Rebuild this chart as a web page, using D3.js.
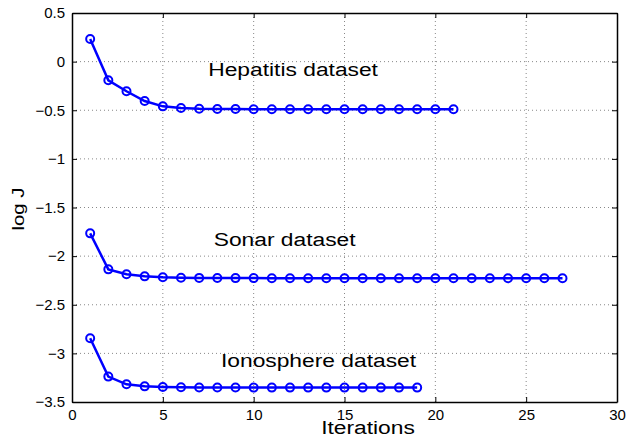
<!DOCTYPE html>
<html>
<head>
<meta charset="utf-8">
<script src="https://cdn.jsdelivr.net/npm/d3@7"></script>
<style>
  body { margin: 0; background: #fff; }
  svg { font-family: "Liberation Sans", Arial, sans-serif; }
</style>
</head>
<body>
<div class="chart"></div>
<script>
var svgWidth = 626;
var svgHeight = 440;
var margin = {top: 13, right: 9, bottom: 38, left: 72};
var width = svgWidth - margin.left - margin.right;
var height = svgHeight - margin.top - margin.bottom;

// data
var hepatitis = [0.233, -0.192, -0.305, -0.405, -0.46, -0.477, -0.485, -0.487, -0.488, -0.489,
  -0.489, -0.49, -0.49, -0.49, -0.49, -0.49, -0.49, -0.49, -0.49, -0.49, -0.49];
var sonar = [-1.766, -2.136, -2.187, -2.208, -2.218, -2.222, -2.224, -2.225, -2.226, -2.226,
  -2.227, -2.227, -2.227, -2.228, -2.228, -2.228, -2.228, -2.228, -2.228, -2.228,
  -2.228, -2.228, -2.228, -2.228, -2.228, -2.228, -2.228];
var ionosphere = [-2.845, -3.239, -3.318, -3.339, -3.346, -3.349, -3.35, -3.351, -3.351, -3.352,
  -3.352, -3.352, -3.352, -3.352, -3.352, -3.352, -3.352, -3.352, -3.352];
var xTicks = [0, 5, 10, 15, 20, 25, 30];
var yTicks = [0.5, 0, -0.5, -1, -1.5, -2, -2.5, -3, -3.5];
var seriesNames = ["Hepatitis dataset", "Sonar dataset", "Ionosphere dataset"];
// label anchor in data units (x, y)
var labelX = [7.5, 7.8, 8.2];
var labelY = [-0.148, -1.893, -3.14];

var stretch = 1.2; // reference text is drawn a bit wide

var svg = d3.select(".chart")
  .append("svg")
  .attr("width", svgWidth)
  .attr("height", svgHeight);

var chartGroup = svg.append("g")
  .attr("transform", `translate(${margin.left},${margin.top})`);

var x = d3.scaleLinear().domain([0, 30]).range([0, width]);
var y = d3.scaleLinear().domain([-3.5, 0.5]).range([height, 0]);

// grid
chartGroup.append("g").selectAll("line")
  .data(xTicks.slice(1, -1))
  .enter().append("line")
  .attr("x1", d => x(d)).attr("x2", d => x(d))
  .attr("y1", 0).attr("y2", height)
  .attr("stroke", "#888").attr("stroke-width", 1)
  .attr("stroke-dasharray", "1,3");
chartGroup.append("g").selectAll("line")
  .data(yTicks.slice(1, -1))
  .enter().append("line")
  .attr("y1", d => y(d)).attr("y2", d => y(d))
  .attr("x1", 0).attr("x2", width)
  .attr("stroke", "#888").attr("stroke-width", 1)
  .attr("stroke-dasharray", "1,3");

// axes, ticks pointing in
var fmt = d => d < 0 ? "\u2212" + Math.abs(d) : String(d);
var bottomAxis = d3.axisBottom(x).tickValues(xTicks).tickSizeInner(-5).tickSizeOuter(0).tickPadding(7);
var leftAxis = d3.axisLeft(y).tickValues(yTicks).tickFormat(fmt).tickSizeInner(-5).tickSizeOuter(0).tickPadding(7);
var topAxis = d3.axisTop(x).tickValues(xTicks).tickFormat("").tickSizeInner(-5).tickSizeOuter(0);
var rightAxis = d3.axisRight(y).tickValues(yTicks).tickFormat("").tickSizeInner(-5).tickSizeOuter(0);

chartGroup.append("g").attr("class", "axis").attr("transform", `translate(0,${height})`).call(bottomAxis);
chartGroup.append("g").attr("class", "axis").call(leftAxis);
chartGroup.append("g").attr("class", "axis").call(topAxis);
chartGroup.append("g").attr("class", "axis").attr("transform", `translate(${width},0)`).call(rightAxis);

chartGroup.selectAll(".axis path").attr("stroke", "#000").attr("stroke-width", 1.5);
chartGroup.selectAll(".axis line").attr("stroke", "#000");
chartGroup.selectAll(".axis text").attr("font-size", 15).attr("fill", "#000")
  .attr("font-family", "Liberation Sans, Arial, sans-serif");

// lines + markers
var line = d3.line().x((d, i) => x(i + 1)).y(d => y(d));
[hepatitis, sonar, ionosphere].forEach(function(s) {
  chartGroup.append("path")
    .datum(s)
    .attr("d", line)
    .attr("fill", "none")
    .attr("stroke", "#0000ff")
    .attr("stroke-width", 2.5);
  chartGroup.append("g").selectAll("circle")
    .data(s)
    .enter().append("circle")
    .attr("cx", (d, i) => x(i + 1))
    .attr("cy", d => y(d))
    .attr("r", 4)
    .attr("fill", "none")
    .attr("stroke", "#0000ff")
    .attr("stroke-width", 2);
});

// dataset labels
seriesNames.forEach(function(n, i) {
  chartGroup.append("text")
    .attr("transform", `translate(${x(labelX[i])},${y(labelY[i])}) scale(${stretch},1)`)
    .attr("font-size", 19)
    .attr("fill", "#000")
    .text(n);
});

// axis labels
svg.append("text")
  .attr("transform", `translate(368,434) scale(${stretch},1)`)
  .attr("text-anchor", "middle")
  .attr("font-size", 19)
  .text("Iterations");

svg.append("text")
  .attr("transform", `translate(24,209) rotate(-90) scale(${stretch},1)`)
  .attr("text-anchor", "middle")
  .attr("font-size", 17)
  .text("log J");
</script>
</body>
</html>
